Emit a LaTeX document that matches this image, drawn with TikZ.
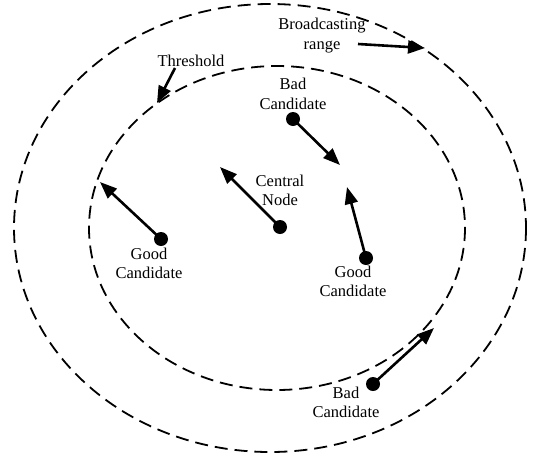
\documentclass[tikz,border=0pt]{standalone}
\usepackage{fontspec}
\setmainfont{Liberation Serif}
\usetikzlibrary{arrows.meta}
\begin{document}
\begin{tikzpicture}[x=1pt,y=-1pt,
  ring/.style={draw, line width=1.8pt, dash pattern=on 13pt off 7pt},
  dot/.style={circle, fill, inner sep=0pt, minimum size=14pt},
  arr/.style={line width=2.6pt, -{Triangle[length=17pt,width=13pt]}},
  lbl/.style={align=center, font=\fontsize{16.5}{19.5}\selectfont, inner sep=0pt}]
\useasboundingbox (0,0) rectangle (541,453);
\draw[ring] (270,228) ellipse [x radius=256, y radius=224];
\draw[ring] (277,228) ellipse [x radius=188, y radius=162];
% dots
\node[dot] (bad1) at (293,119) {};
\node[dot] (central) at (280,227) {};
\node[dot] (good1) at (161,239) {};
\node[dot] (good2) at (366,258) {};
\node[dot] (bad2) at (373,384) {};
% arrow targets
\coordinate (tbad1) at (340,165);
\coordinate (tcentral) at (220,167);
\coordinate (tgood1) at (100,182);
\coordinate (tgood2) at (347,187);
\coordinate (tbad2) at (434,328);
\coordinate (tbroad) at (425,48);
\coordinate (tthr) at (157,103);
\coordinate (sbroad) at (358,44);
\coordinate (sthr) at (175,68);
% labels
\node[lbl] (lbroad) at (322,35.5) {Broadcasting\\range};
\node[lbl] (lthr) at (191,61) {Threshold};
\node[lbl] (lbad1) at (293,94) {Bad\\Candidate};
\node[lbl] (lcentral) at (280,190.5) {Central\\Node};
\node[lbl] (lgood1) at (149,263.5) {Good\\Candidate};
\node[lbl] (lgood2) at (353,281.5) {Good\\Candidate};
\node[lbl] (lbad2) at (346,402.5) {Bad\\Candidate};
% arrows
\draw[arr] (bad1.center) -- (tbad1);
\draw[arr] (central.center) -- (tcentral);
\draw[arr] (good1.center) -- (tgood1);
\draw[arr] (good2.center) -- (tgood2);
\draw[arr] (bad2.center) -- (tbad2);
\draw[arr] (sbroad) -- (tbroad);
\draw[arr] (sthr) -- (tthr);
\end{tikzpicture}
\end{document}
